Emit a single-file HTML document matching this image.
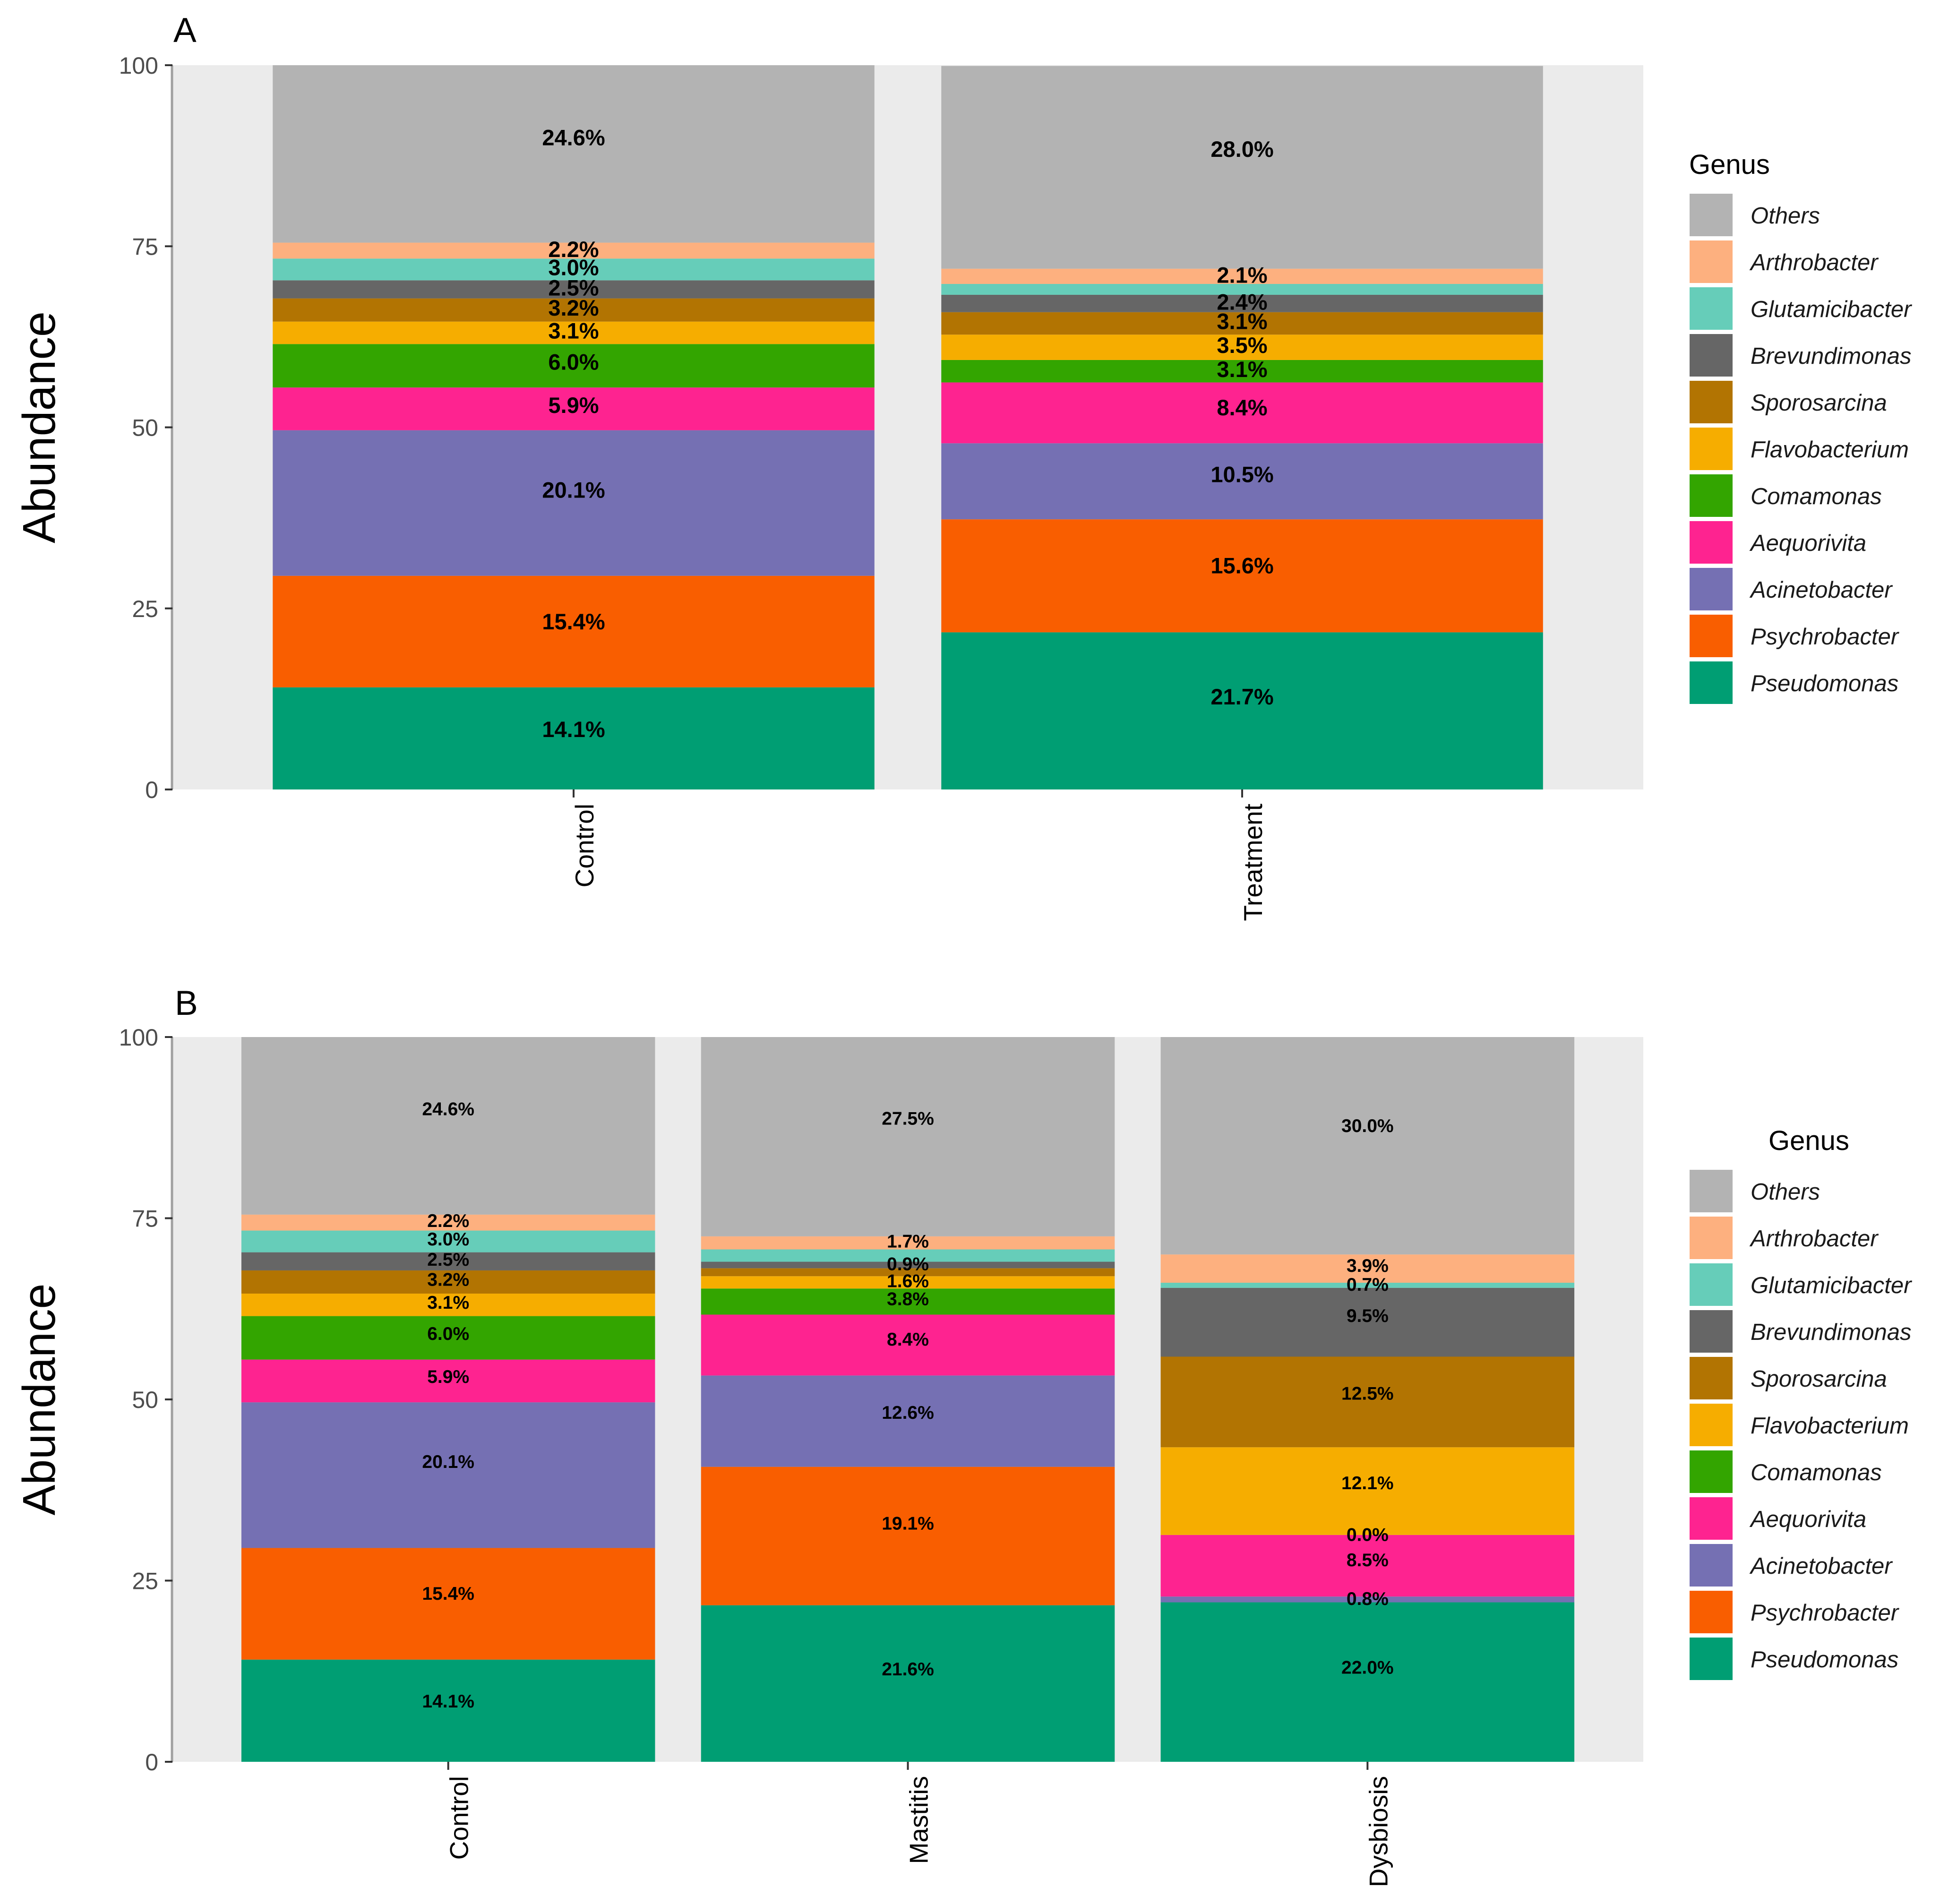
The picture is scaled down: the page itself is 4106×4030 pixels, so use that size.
<!DOCTYPE html>
<html><head><meta charset="utf-8">
<style>
html,body{margin:0;padding:0;background:#fff;}
svg{display:block;font-family:"Liberation Sans",Arial,sans-serif;}
</style></head>
<body>
<svg id="chart" width="4106" height="4030" viewBox="0 0 4106 4030" xmlns="http://www.w3.org/2000/svg"></svg>
<script>
const genera = ["Pseudomonas","Psychrobacter","Acinetobacter","Aequorivita","Comamonas","Flavobacterium","Sporosarcina","Brevundimonas","Glutamicibacter","Arthrobacter","Others"];
const colors = ["#009e73","#f95e00","#7570b3","#fe2390","#33a500","#f6ad00","#b27402","#666666","#66cdb9","#fdb07f","#b3b3b3"];
const legendOrder = ["Others","Arthrobacter","Glutamicibacter","Brevundimonas","Sporosarcina","Flavobacterium","Comamonas","Aequorivita","Acinetobacter","Psychrobacter","Pseudomonas"];
const yTicks = [0,25,50,75,100];

const catsA = ["Control","Treatment"];
const controlA = [14.1,15.4,20.1,5.9,6.0,3.1,3.2,2.5,3.0,2.2,24.6];
const treatmentA = [21.7,15.6,10.5,8.4,3.1,3.5,3.1,2.4,1.5,2.1,28.0];
const labelsControlA = ["14.1%","15.4%","20.1%","5.9%","6.0%","3.1%","3.2%","2.5%","3.0%","2.2%","24.6%"];
const labelsTreatmentA = ["21.7%","15.6%","10.5%","8.4%","3.1%","3.5%","3.1%","2.4%","","2.1%","28.0%"];

const catsB = ["Control","Mastitis","Dysbiosis"];
const controlB = [14.1,15.4,20.1,5.9,6.0,3.1,3.2,2.5,3.0,2.2,24.6];
const mastitisB = [21.6,19.1,12.6,8.4,3.6,1.7,1.1,0.9,1.7,1.8,27.5];
const dysbiosisB = [22.0,0.0,0.8,8.5,0.0,12.1,12.5,9.5,0.7,3.9,30.0];
const labelsControlB = ["14.1%","15.4%","20.1%","5.9%","6.0%","3.1%","3.2%","2.5%","3.0%","2.2%","24.6%"];
const labelsMastitisB = ["21.6%","19.1%","12.6%","8.4%","3.8%","1.6%","","0.9%","","1.7%","27.5%"];
const labelsDysbiosisB = ["22.0%","","0.8%","8.5%","0.0%","12.1%","12.5%","9.5%","0.7%","3.9%","30.0%"];

const NS = "http://www.w3.org/2000/svg";
const svg = document.getElementById("chart");
function mk(tag, attrs, parent){
  const e = document.createElementNS(NS, tag);
  for (const k in attrs) e.setAttribute(k, attrs[k]);
  (parent||svg).appendChild(e);
  return e;
}

function panel(cfg){
  const g = mk("g", {});
  
  
  const left = 365, right = 3478, top = cfg.top, bottom = cfg.bottom;
  const n = cfg.cats.length;
  const unit = (right - left) / (n - 1 + 1.2);
  const xScale = i => left + (0.6 + i) * unit;
  const yScale = v => bottom - (Math.min(v,100) / 100) * (bottom - top);
  const bw = 0.9 * unit;

  const bg = mk("rect", {x:left, y:top, width:right-left, height:bottom-top, fill:"#ebebeb"}, g);
  
  

  cfg.series.forEach((vals, ci) => {
    const bar = mk("g", {}, g);
    
    
    let cum = 0;
    vals.forEach((v, gi) => {
      const y0 = yScale(cum), y1 = yScale(cum + v);
      if (y0 - y1 > 0) {
        const r = mk("rect", {x:xScale(ci)-bw/2, y:y1, width:bw, height:y0-y1, fill:colors[gi]}, bar);
        
        
      }
      cum += v;
    });
    cum = 0;
    vals.forEach((v, gi) => {
      const lbl = cfg.labels[ci][gi];
      if (lbl) {
        const t = mk("text", {x:xScale(ci), y:yScale(cum + v*0.59), "text-anchor":"middle", "dominant-baseline":"central", "font-size":cfg.lblSize, "font-weight":"bold", fill:"#000"}, bar);
        
        
        t.textContent = lbl;
      }
      cum += v;
    });
  });

  const ax = mk("line", {x1:left-1, y1:top, x2:left-1, y2:bottom, stroke:"#a0a0a0", "stroke-width":5}, g);
  
  
  yTicks.forEach(v => {
    const y = yScale(v);
    const tk = mk("line", {x1:349, y1:y, x2:365, y2:y, stroke:"#333", "stroke-width":4}, g);
    
    
    const t = mk("text", {x:335, y:y+18, "text-anchor":"end", "font-size":50, fill:"#4d4d4d"}, g);
    
    
    t.textContent = v;
  });
  cfg.cats.forEach((c, i) => {
    const x = xScale(i);
    const tk = mk("line", {x1:x, y1:bottom, x2:x, y2:bottom+17, stroke:"#333", "stroke-width":4}, g);
    
    
    const t = mk("text", {x:0, y:0, "text-anchor":"end", "font-size":55, fill:"#000", transform:"translate(" + (x+42) + "," + (bottom+30) + ") rotate(-90)"}, g);
    
    
    t.textContent = c;
  });
  const yt = mk("text", {x:0, y:0, "text-anchor":"middle", "font-size":97, fill:"#000", transform:"translate(116," + ((top+bottom)/2) + ") rotate(-90)"}, g);
  
  
  yt.textContent = "Abundance";
  const tag = mk("text", {x:cfg.tagX, y:cfg.tagY, "font-size":73, fill:"#000"}, g);
  
  
  tag.textContent = cfg.tag;

  const lg = mk("g", {}, g);
  
  
  const lt = mk("text", {x:cfg.legTitleX, y:cfg.legTop - 42, "font-size":58, fill:"#000"}, lg);
  
  
  lt.textContent = "Genus";
  legendOrder.forEach((name, i) => {
    const y = cfg.legTop + i * 99;
    const e = mk("g", {}, lg);
    
    
    mk("rect", {x:3576, y:y, width:91, height:90, fill:colors[genera.indexOf(name)]}, e);
    const t = mk("text", {x:3705, y:y+63, "font-size":49, "font-style":"italic", fill:"#1a1a1a"}, e);
    t.textContent = name;
  });
}

panel({name:"panel-a", top:138, bottom:1671, cats:catsA, series:[controlA, treatmentA], labels:[labelsControlA, labelsTreatmentA], lblSize:47, tag:"A", tagX:367, tagY:89, legTop:410, legTitleX:3575});
panel({name:"panel-b", top:2195, bottom:3729, cats:catsB, series:[controlB, mastitisB, dysbiosisB], labels:[labelsControlB, labelsMastitisB, labelsDysbiosisB], lblSize:39, tag:"B", tagX:370, tagY:2148, legTop:2476, legTitleX:3743});
</script>
</body></html>
